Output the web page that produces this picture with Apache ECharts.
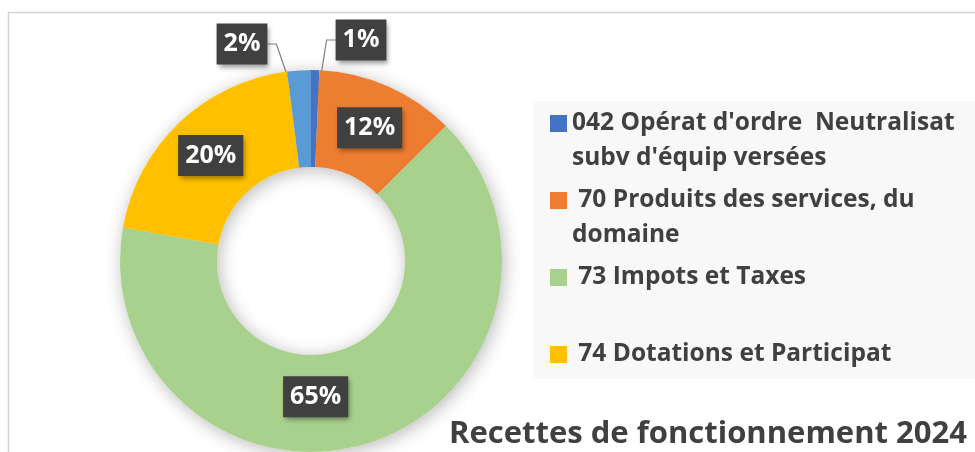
<!DOCTYPE html>
<html>
<head>
<meta charset="utf-8">
<script src="https://cdn.jsdelivr.net/npm/echarts@6/dist/echarts.min.js"></script>
<style>
  html, body { margin: 0; padding: 0; background: #fff; }
  #chart { width: 975px; height: 452px; }
</style>
</head>
<body>
<div id="chart"></div>
<script>
// data
var categories = [
  "042 Opérat d'ordre Neutralisat subv d'équip versées",
  "70 Produits des services, du domaine",
  "73 Impots et Taxes",
  "74 Dotations et Participat",
  "75 Autres produits de gestion courante"
];
var shares = [0.7, 11.8, 65.3, 20.2, 2.0];
var legendLines = [
  ["042 Opérat d'ordre  Neutralisat", "subv d'équip versées"],
  [" 70 Produits des services, du", "domaine"],
  [" 73 Impots et Taxes", " "],
  [" 74 Dotations et Participat", " "]
];
var colors = ['#4472C4', '#ED7D31', '#A9D18E', '#FFC000', '#5B9BD5'];
var titleText = 'Recettes de fonctionnement 2024';

// layout
var FONT = '"Open Sans", "Noto Sans", sans-serif';
var CX = 311, CY = 261, R_IN = 94, R_OUT = 191;
var calloutAt = { 0: [361, 40], 4: [242, 44] };

function midPoint(i, r) {
  var total = 0, before = 0;
  shares.forEach(function (v, k) { total += v; if (k < i) before += v; });
  var a = (before + shares[i] / 2) / total * Math.PI * 2;
  return [CX + r * Math.sin(a), CY - r * Math.cos(a)];
}

var chart = echarts.init(document.getElementById('chart'));

chart.setOption({
  backgroundColor: '#fff',
  animation: false,
  title: {
    text: titleText,
    left: 449,
    top: 419,
    padding: 0,
    textStyle: { fontFamily: FONT, fontSize: 31, fontWeight: 'bold', color: '#404040' }
  },
  graphic: [
    {
      type: 'rect', silent: true, z: -10,
      shape: { x: 8.5, y: 12.5, width: 1000, height: 500 },
      style: { fill: 'none', stroke: '#D4D4D4', lineWidth: 1.5 }
    },
    {
      type: 'rect', silent: true, z: -5,
      shape: { x: 533, y: 101, width: 460, height: 278 },
      style: { fill: '#F8F8F8' }
    }
  ],
  legend: {
    orient: 'vertical',
    left: 550,
    top: 71,
    padding: 0,
    itemGap: -28,
    itemWidth: 17,
    itemHeight: 17,
    icon: 'rect',
    selectedMode: false,
    data: categories.slice(0, 4).map(function (name) {
      return { name: name, itemStyle: { color: colors[categories.indexOf(name)] } };
    }),
    formatter: function (name) {
      return ' \n' + legendLines[categories.indexOf(name)].join('\n');
    },
    textStyle: { fontFamily: FONT, fontSize: 24.5, fontWeight: 'bold', color: '#404040', lineHeight: 35 }
  },
  series: [
    {
      type: 'pie', silent: true, z: 2,
      center: [CX, CY], radius: [R_IN, R_OUT], startAngle: 90, clockwise: true,
      avoidLabelOverlap: false,
      percentPrecision: 0,
      label: {
        show: true, position: 'inside', formatter: '{d}%',
        fontFamily: FONT, fontSize: 25, fontWeight: 'bold', color: '#fff', lineHeight: 29,
        backgroundColor: '#404040', padding: [6, 7],
        shadowColor: 'rgba(0,0,0,0.4)', shadowBlur: 5, shadowOffsetX: 2, shadowOffsetY: 3
      },
      labelLine: { show: false, lineStyle: { color: '#7F7F7F', width: 1.2 } },
      labelLayout: function (p) {
        var i = p.dataIndex;
        if (calloutAt[i]) {
          var lx = calloutAt[i][0], ly = calloutAt[i][1];
          var start = midPoint(i, (R_IN + R_OUT) / 2);
          var half = p.labelRect.width / 2;
          var left = start[0] < CX;
          var edgeX = left ? lx + half : lx - half;
          var elbowX = left ? edgeX + 9 : edgeX - 9;
          return {
            x: lx, y: ly, align: 'center', verticalAlign: 'middle',
            labelLinePoints: [start, [elbowX, ly], [edgeX, ly]]
          };
        }
        if (i === 2) return { dx: -39, dy: -3 };
      },
      data: shares.map(function (v, i) {
        var d = { name: categories[i], value: v, itemStyle: { color: colors[i] } };
        if (calloutAt[i]) {
          d.label = { position: 'outside' };
          d.labelLine = { show: true, length: 10, length2: 10 };
        }
        return d;
      })
    },
    {
      // soft shadow under the ring
      type: 'pie', silent: true, z: 1,
      center: [CX, CY], radius: [R_IN, R_OUT], startAngle: 90,
      label: { show: false }, labelLine: { show: false },
      itemStyle: { color: '#fff', shadowBlur: 18, shadowColor: 'rgba(0,0,0,0.28)', shadowOffsetX: 2, shadowOffsetY: 3 },
      data: shares.map(function (v, i) { return { name: 'shadow' + i, value: v }; })
    }
  ]
});
</script>
</body>
</html>
